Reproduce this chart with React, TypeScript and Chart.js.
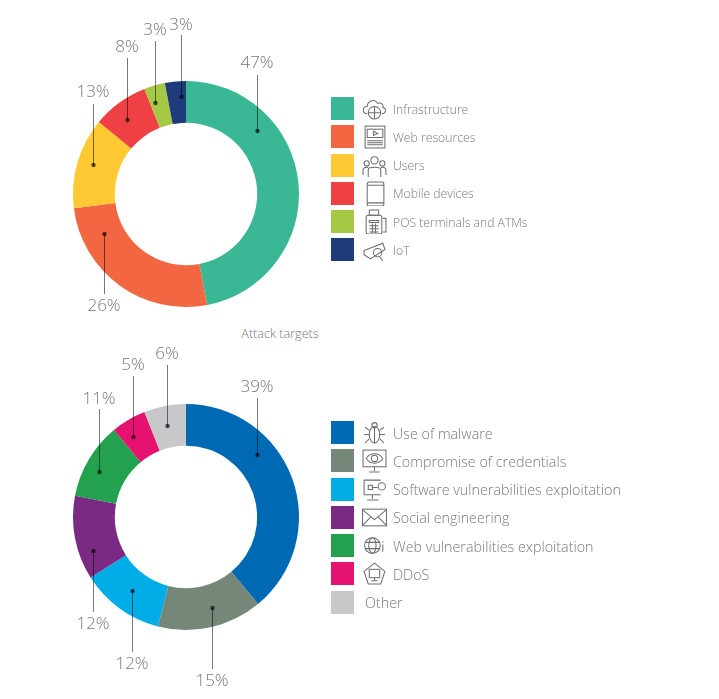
import { useEffect, useRef } from "react";
import { Chart, registerables } from "chart.js";

Chart.register(...registerables);

const targetLabels = ["Infrastructure", "Web resources", "Users", "Mobile devices", "POS terminals and ATMs", "IoT"];
const targetValues = [47, 26, 13, 8, 3, 3];
const targetColors = ["#3AB795", "#F26641", "#FFC933", "#EF4044", "#A5C945", "#1F3C7A"];
const targetIcons = ["cloud", "web", "users", "tablet", "pos", "camera"];

const methodLabels = [
  "Use of malware",
  "Compromise of credentials",
  "Software vulnerabilities exploitation",
  "Social engineering",
  "Web vulnerabilities exploitation",
  "DDoS",
  "Other",
];
const methodValues = [39, 15, 12, 12, 11, 5, 6];
const methodColors = ["#0069B4", "#748779", "#00ADE6", "#7A2A82", "#23A14F", "#E5126F", "#C8C8CB"];
const methodIcons = ["bug", "eye", "gear", "mail", "globe", "ddos", ""];

// callout leader lines: [dot x, dot y, end y of the line, label y], page pixels
const targetCallouts = [
  [257, 131, 75, 63],
  [104, 234, 294, 306],
  [93, 165, 104, 92],
  [127, 120, 58, 47],
  [155, 103, 41, 30],
  [181, 97, 35, 25],
];
const methodCallouts = [
  [257, 455, 398, 387],
  [212, 608, 669, 681],
  [132, 591, 652, 664],
  [93, 551, 612, 624],
  [99, 472, 409, 399],
  [133, 437, 376, 365],
  [167, 426, 365, 354],
];

const FONT = '"Open Sans", sans-serif';
const GREY = "#77787b";

const calloutPlugin = {
  id: "callouts",
  afterDraw(chart: any, _args: any, opts: any) {
    const { ctx } = chart;
    const values = chart.data.datasets[0].data;
    opts.items.forEach((c: number[], i: number) => {
      const [x, dotY, endY, labelY] = c;
      const top = opts.top;
      ctx.save();
      ctx.globalCompositeOperation = "multiply";
      ctx.strokeStyle = "#77787b";
      ctx.lineWidth = 1;
      ctx.beginPath();
      ctx.moveTo(x - opts.left + 0.5, dotY - top);
      ctx.lineTo(x - opts.left + 0.5, endY - top);
      ctx.stroke();
      ctx.fillStyle = "#55565a";
      ctx.beginPath();
      ctx.arc(x - opts.left + 0.5, dotY - top, 2.2, 0, Math.PI * 2);
      ctx.fill();
      ctx.restore();
      ctx.fillStyle = GREY;
      ctx.font = `300 17px ${FONT}`;
      ctx.textAlign = "center";
      ctx.textBaseline = "middle";
      ctx.fillText(values[i] + "%", x - opts.left, labelY - top);
    });
  },
};

function Donut({ values, labels, colors, callouts, top, height, padTop }: any) {
  const canvasRef = useRef<HTMLCanvasElement | null>(null);

  useEffect(() => {
    if (!canvasRef.current) return;
    const chart = new Chart(canvasRef.current, {
      type: "doughnut",
      data: {
        labels,
        datasets: [{ data: values, backgroundColor: colors, borderWidth: 0 }],
      },
      options: {
        responsive: false,
        animation: false,
        cutout: "63%",
        layout: {
          padding: { left: 37, right: 37, top: padTop, bottom: height - padTop - 226 },
        },
        plugins: {
          legend: { display: false },
          tooltip: { enabled: false },
          callouts: { items: callouts, top, left: 36 },
        } as any,
      },
      plugins: [calloutPlugin],
    });
    return () => chart.destroy();
  }, []);

  return (
    <canvas
      ref={canvasRef}
      width={300}
      height={height}
      style={{ position: "absolute", left: 36, top, width: 300, height }}
    />
  );
}

const iconShapes: Record<string, JSX.Element> = {
  cloud: (
    <>
      <path d="M5 17c-5 0-5-7 0-7 0-5 7-8 10-3 4-1 6 2 5 4 4 1 3 6-1 6" />
      <circle cx="12" cy="16" r="6" />
      <path d="M12 10v12M6 16h12" />
    </>
  ),
  web: (
    <>
      <rect x="3" y="2" width="19" height="21" />
      <rect x="5" y="5" width="15" height="8" />
      <path d="M11 7l4 2-4 2zM5 16h15M5 18h15M5 20h15" />
    </>
  ),
  users: (
    <>
      <circle cx="12" cy="7" r="3.5" />
      <circle cx="4.5" cy="10" r="2.5" />
      <circle cx="19.5" cy="10" r="2.5" />
      <path d="M6 23v-7c0-3 12-3 12 0v7M1 21v-5c0-2 3-3 5-2M23 21v-5c0-2-3-3-5-2" />
    </>
  ),
  tablet: (
    <>
      <rect x="5" y="1" width="16" height="23" rx="2" />
      <path d="M5 4h16M5 21h16" />
    </>
  ),
  pos: (
    <>
      <rect x="4" y="6" width="15" height="18" rx="2" />
      <rect x="7" y="1" width="9" height="5" />
      <path d="M7 11h9v2H7zM7 16h9M7 19h9M7 22h9M10 14v9M13 14v9M20 9h3v13h-3" />
    </>
  ),
  camera: (
    <>
      <path d="M2 13l18-7 2 6-14 9-6-4z" />
      <circle cx="15" cy="15" r="4" />
      <path d="M17 19l3 4" />
    </>
  ),
  bug: (
    <>
      <ellipse cx="12" cy="14" rx="5" ry="8" />
      <circle cx="12" cy="5" r="2.5" />
      <path d="M12 7v15M7 10L3 7M17 10l4-3M7 14H2M17 14h5M7 18l-4 4M17 18l4 4" />
    </>
  ),
  eye: (
    <>
      <rect x="1" y="2" width="22" height="16" />
      <path d="M4 10c4-6 12-6 16 0-4 6-12 6-16 0zM12 18v4M7 23h10" />
      <circle cx="12" cy="10" r="3" />
    </>
  ),
  gear: (
    <>
      <path d="M18 17H2V3h16M10 17v4M5 22h11" />
      <circle cx="19" cy="9" r="3.5" />
      <path d="M6 8h4v4H6zM10 10h5" />
    </>
  ),
  mail: (
    <>
      <rect x="0.5" y="4" width="23" height="16" />
      <path d="M1 5l11 9 11-9M1 19l8-8M23 19l-8-8" />
    </>
  ),
  globe: (
    <>
      <circle cx="10" cy="12" r="7.5" />
      <ellipse cx="10" cy="12" rx="3.5" ry="7.5" />
      <path d="M3 9h14M3 15h14M20 8v1M20 11v7" />
    </>
  ),
  ddos: (
    <>
      <path d="M12 2l10 8-4 12H6L2 10z" />
      <rect x="7" y="8" width="10" height="8" />
      <path d="M12 16v3M9 19h6" />
    </>
  ),
};

function Legend({ labels, colors, icons, top, fontSize }: any) {
  return (
    <>
      {labels.map((label: string, i: number) => {
        const y = top + i * 28.25;
        return (
          <div key={label}>
            <div
              style={{ position: "absolute", left: 331, top: y, width: 23, height: 23, background: colors[i] }}
            />
            {icons[i] && (
              <svg
                viewBox="0 0 24 24"
                width={25}
                height={25}
                fill="none"
                stroke="#6d6e71"
                strokeWidth={1}
                style={{ position: "absolute", left: 362, top: y - 1 }}
              >
                {iconShapes[icons[i]]}
              </svg>
            )}
            <div
              style={{
                position: "absolute",
                left: icons[i] ? 393 : 365,
                top: y + 0.5,
                height: 23,
                font: `300 ${fontSize}px/23px ${FONT}`,
                color: GREY,
                whiteSpace: "nowrap",
              }}
            >
              {label}
            </div>
          </div>
        );
      })}
    </>
  );
}

export default function App() {
  return (
    <div style={{ position: "absolute", left: 0, top: 0, width: 719, height: 699, background: "#fff", overflow: "hidden" }}>
      <Donut
        values={targetValues}
        labels={targetLabels}
        colors={targetColors}
        callouts={targetCallouts}
        top={0}
        height={325}
        padTop={81}
      />
      <Legend labels={targetLabels} colors={targetColors} icons={targetIcons} top={97} fontSize={12.2} />
      <div
        style={{
          position: "absolute",
          left: 180,
          width: 200,
          textAlign: "center",
          top: 326,
          font: `300 12.6px/16px ${FONT}`,
          color: GREY,
        }}
      >
        Attack targets
      </div>
      <Donut
        values={methodValues}
        labels={methodLabels}
        colors={methodColors}
        callouts={methodCallouts}
        top={342}
        height={357}
        padTop={62}
      />
      <Legend labels={methodLabels} colors={methodColors} icons={methodIcons} top={421} fontSize={14.3} />
    </div>
  );
}
